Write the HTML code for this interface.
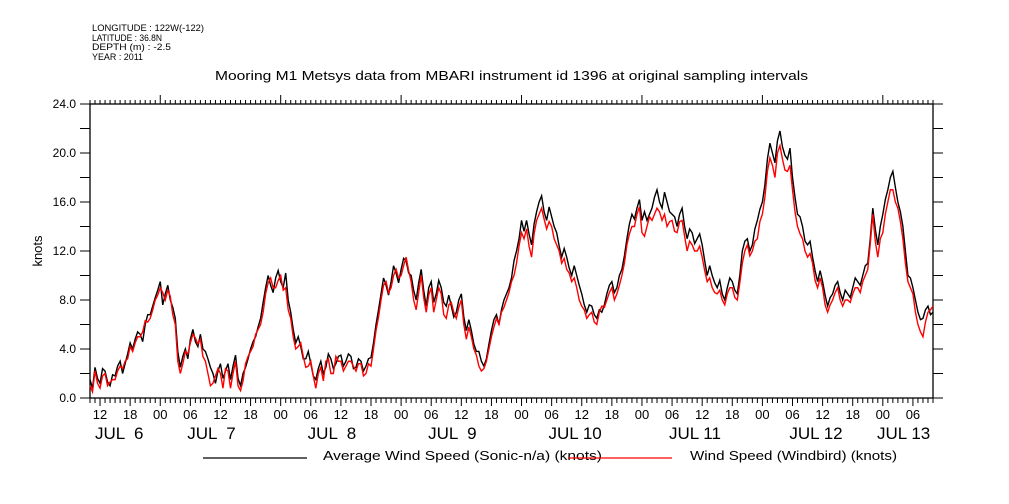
<!DOCTYPE html>
<html><head><meta charset="utf-8"><style>
body{margin:0;background:#fff;}
svg{display:block;font-family:"Liberation Sans",sans-serif;}
</style></head><body>
<svg id="chart" width="1009" height="504" viewBox="0 0 1009 504" xmlns="http://www.w3.org/2000/svg">
<rect width="1009" height="504" fill="#fff"/>
<g font-size="9.5" fill="#000">
<text x="92" y="31" textLength="112" lengthAdjust="spacingAndGlyphs">LONGITUDE : 122W(-122)</text>
<text x="92" y="41" textLength="70" lengthAdjust="spacingAndGlyphs">LATITUDE : 36.8N</text>
<text x="92" y="50" textLength="79" lengthAdjust="spacingAndGlyphs">DEPTH (m) : -2.5</text>
<text x="92" y="60" textLength="51" lengthAdjust="spacingAndGlyphs">YEAR : 2011</text>
</g>
<text x="215" y="80" font-size="13" textLength="593" lengthAdjust="spacingAndGlyphs">Mooring M1 Metsys data from MBARI instrument id 1396 at original sampling intervals</text>
<text x="42" y="251" font-size="13" text-anchor="middle" transform="rotate(-90 42 251)">knots</text>
<g id="axes"></g>
<g id="series"></g>
<g>
<line x1="203" y1="458" x2="307" y2="458" stroke="#000" stroke-width="1.2"/>
<text x="323" y="460" font-size="13" textLength="279" lengthAdjust="spacingAndGlyphs">Average Wind Speed (Sonic-n/a) (knots)</text>
<line x1="568" y1="458" x2="672" y2="458" stroke="#f00" stroke-width="1.2"/>
<text x="690" y="460" font-size="13" textLength="207" lengthAdjust="spacingAndGlyphs">Wind Speed (Windbird) (knots)</text>
</g>
</svg>
<script>
// hourly values, hours since JUL 6 10:00
const avgSpeed = [
1.5,2.5,1.2,2.2,1.0,1.8,3.0,2.8,4.5,4.8,
5.2,6.0,6.8,8.2,9.5,8.5,8.0,6.5,2.5,4.0,
4.8,4.6,5.2,3.8,2.5,1.2,2.8,2.2,1.5,3.5,
1.0,2.5,4.0,5.0,6.5,9.0,9.2,9.8,9.5,10.2,
7.0,4.5,4.2,3.2,2.8,1.5,3.0,2.5,3.2,2.8,
3.5,3.0,3.4,2.5,3.0,2.6,3.3,6.0,8.5,9.2,
9.5,10.2,10.5,11.2,10.0,8.0,10.5,7.5,9.5,8.5,
9.0,7.5,7.5,7.0,8.5,5.5,5.5,3.8,3.0,3.2,
5.5,6.8,7.2,8.5,9.8,12.0,14.5,14.5,12.5,15.2,
16.5,14.5,14.8,13.5,11.5,11.5,10.0,10.0,8.5,7.0,
7.5,6.5,7.0,8.5,9.5,9.0,10.5,13.0,15.0,15.5,
14.5,14.5,15.5,17.0,15.5,16.0,15.0,14.0,15.5,13.0,
13.5,13.0,12.5,10.0,10.0,9.0,8.5,9.0,9.5,8.5,
12.0,13.0,12.5,14.5,16.0,19.5,20.0,21.0,20.5,19.5,
18.0,15.0,14.0,12.5,11.5,9.5,9.5,7.5,8.5,9.5,
8.0,8.5,9.0,9.5,10.0,11.0,15.5,12.5,15.0,17.0,
18.5,16.0,14.0,10.0,9.0,7.0,6.5,7.5,7.0];
// half-hour values between hourly samples
const avgSpeedMid = [
0.8,1.6,2.4,1.3,1.9,2.6,2.0,3.6,4.0,5.4,
4.6,6.8,7.5,8.8,7.6,9.2,7.4,3.8,3.4,3.2,
5.6,4.2,4.0,3.2,2.0,2.2,1.6,2.8,2.6,1.6,
2.0,3.2,4.6,5.8,7.8,10.0,8.6,10.4,9.0,8.0,
5.6,5.0,3.2,3.8,1.8,2.4,2.0,3.6,2.4,3.4,
2.6,3.6,2.4,3.2,2.2,3.2,4.5,7.2,9.8,8.4,
10.8,9.4,11.4,10.2,8.8,9.4,8.8,9.0,7.8,9.6,
7.8,8.4,6.6,8.0,6.6,6.4,4.4,3.8,2.6,4.4,
6.4,6.0,8.0,9.0,11.2,13.0,13.6,13.4,14.2,16.0,
15.2,15.6,14.0,12.4,12.2,10.6,10.8,9.2,7.6,7.6,
6.8,7.2,7.6,9.2,8.6,10.0,11.6,14.2,14.6,16.2,
15.2,15.0,16.4,16.0,16.8,15.2,14.8,15.0,14.0,13.8,
12.6,13.4,11.2,10.8,9.4,9.6,8.0,9.8,8.8,10.0,
12.8,12.0,13.8,15.4,17.4,20.8,19.2,21.8,19.8,20.4,
16.4,14.8,12.8,12.8,10.4,10.4,8.4,8.2,9.2,8.6,
8.8,8.2,9.8,9.2,10.8,13.0,13.8,14.0,16.2,18.0,
17.2,15.2,12.0,9.8,8.0,6.4,7.2,6.8];
const windbirdSpeed = [
1.0,2.2,0.8,2.0,1.3,1.5,2.6,3.0,4.2,4.5,
5.0,6.3,6.5,8.0,9.0,8.0,8.3,6.0,2.0,3.8,
4.5,4.9,4.8,3.0,1.0,1.8,2.0,2.4,0.8,3.0,
0.6,2.8,3.8,5.2,6.0,8.5,9.8,9.0,10.0,9.0,
6.5,4.0,4.5,2.5,3.0,0.8,2.5,3.0,2.0,3.4,
3.0,2.6,3.0,2.2,2.8,2.0,2.6,5.5,8.0,9.5,
9.0,10.5,10.0,11.5,9.5,7.2,10.0,7.0,9.0,8.0,
8.5,6.5,7.8,6.5,8.0,4.8,5.0,3.5,2.2,3.0,
5.0,6.5,7.0,8.0,9.5,11.0,13.5,13.8,11.5,14.5,
15.5,13.8,14.0,12.5,11.0,10.5,9.5,9.0,7.5,6.5,
7.0,6.0,7.5,8.0,9.0,8.5,10.0,12.5,14.0,15.0,
13.5,14.0,14.5,15.5,14.5,14.0,14.5,13.5,14.5,12.0,
12.5,12.0,11.5,9.5,9.0,8.5,8.0,8.5,9.0,8.0,
11.0,12.5,12.0,13.0,15.0,18.5,19.0,20.0,19.5,18.5,
17.0,14.0,13.0,11.5,11.0,9.0,9.0,7.0,8.0,9.0,
7.5,8.0,8.5,9.0,9.5,10.5,15.0,11.5,13.5,16.0,
17.0,15.5,13.0,9.5,8.5,6.0,5.0,7.0,7.5];
const windbirdSpeedMid = [
0.5,1.2,1.8,1.0,1.5,2.2,2.4,3.2,3.8,5.0,
5.4,6.2,7.2,8.4,8.6,8.8,6.8,3.0,2.8,3.6,
5.2,4.4,3.4,2.0,1.2,2.4,0.8,2.2,2.0,1.0,
1.4,3.4,4.2,5.6,7.0,9.4,9.0,9.6,8.8,7.2,
5.0,4.2,3.4,2.6,1.8,2.0,1.4,3.2,2.0,3.0,
2.2,3.0,2.6,2.8,1.8,2.8,4.0,6.6,9.2,8.6,
10.0,9.8,10.8,10.4,8.0,8.6,8.2,8.4,7.0,9.0,
6.8,7.6,7.0,7.4,6.0,5.8,4.0,2.6,2.4,4.0,
5.8,6.0,7.4,8.6,10.0,12.4,13.0,12.4,13.4,15.0,
14.6,14.4,13.0,12.0,11.4,10.2,9.8,8.0,7.2,6.8,
6.2,7.0,7.4,8.6,8.0,9.2,11.0,13.4,14.0,15.6,
13.2,14.8,15.0,15.2,15.0,14.4,13.6,14.4,13.2,12.8,
12.0,12.4,10.4,9.8,8.6,8.8,7.6,9.0,8.2,9.4,
12.0,11.6,12.8,14.4,16.4,19.6,18.0,20.6,18.6,19.0,
15.2,13.4,12.0,11.8,9.6,9.8,7.6,7.6,8.6,8.0,
8.0,7.8,9.0,8.6,10.0,12.6,12.8,13.0,15.0,17.0,
16.0,14.4,11.0,9.0,7.0,5.4,6.2,7.2];
const yTickLabels = ["0.0","4.0","8.0","12.0","16.0","20.0","24.0"];
const dayLabels = ["JUL  6","JUL  7","JUL  8","JUL  9","JUL 10","JUL 11","JUL 12","JUL 13"];
const hourLabels = ["00","06","12","18"];

const NS="http://www.w3.org/2000/svg";
const L=90,R=933,T=104,B=398,H0=10,HSPAN=168,YMAX=24;
const xs=h=>L+(h/HSPAN)*(R-L);
const ys=v=>B-(v/YMAX)*(B-T);
function mk(tag,attrs,parent){const e=document.createElementNS(NS,tag);for(const k in attrs)e.setAttribute(k,attrs[k]);parent.appendChild(e);return e;}
const axes=document.getElementById('axes');

const frame=mk('rect',{x:L,y:T,width:R-L,height:B-T,fill:'none',stroke:'#000','stroke-width':1.3},axes);



for(let v=0;v<=YMAX;v+=2){
  const y=ys(v);
  const t1=mk('line',{x1:L-10,y1:y,x2:L,y2:y,stroke:'#000','stroke-width':1},axes);
  
  
  const t2=mk('line',{x1:R,y1:y,x2:R+10,y2:y,stroke:'#000','stroke-width':1},axes);
  
  
}
yTickLabels.forEach((lab,i)=>{
  const t=mk('text',{x:76,y:ys(i*4)+4,'font-size':12,'text-anchor':'end'},axes);
  t.textContent=lab;
  
  
});
for(let h=0;h<=HSPAN;h++){
  const x=xs(h);const clock=(h+H0)%24;
  const big=clock===0, six=clock%6===0;
  const b=mk('line',{x1:x,y1:B,x2:x,y2:B+(six?8:5),stroke:'#000','stroke-width':1},axes);
  
  
  const t=mk('line',{x1:x,y1:T,x2:x,y2:T-(big?9:4),stroke:'#000','stroke-width':1},axes);
  
  
  if(six){
    const lab=mk('text',{x:x,y:419,'font-size':13,'text-anchor':'middle'},axes);
    lab.textContent=hourLabels[clock/6];
    
    
  }
}
dayLabels.forEach((d,i)=>{
  const x0=xs(i*24-H0);
  const left=Math.max(95,Math.min(x0+27,R-56));
  const t=mk('text',{x:left,y:439,'font-size':17},axes);
  t.setAttribute('style','white-space:pre');
  t.textContent=d;
  
  
});
const sg=document.getElementById('series');
function drawSeries(arr,mid,color,name){
  const pts=[];
  arr.forEach((v,i)=>{pts.push([i,v]); if(i<mid.length) pts.push([i+0.5,mid[i]]);});
  const d=pts.map((p,i)=>(i?'L':'M')+xs(p[0]).toFixed(2)+' '+ys(p[1]).toFixed(2)).join(' ');
  const p=mk('path',{d:d,fill:'none',stroke:color,'stroke-width':1.4,'stroke-linejoin':'miter'},sg);
  
  
}
drawSeries(avgSpeed,avgSpeedMid,'#000','average-wind-speed-line');
drawSeries(windbirdSpeed,windbirdSpeedMid,'#f00','windbird-wind-speed-line');
</script>
</body></html>
